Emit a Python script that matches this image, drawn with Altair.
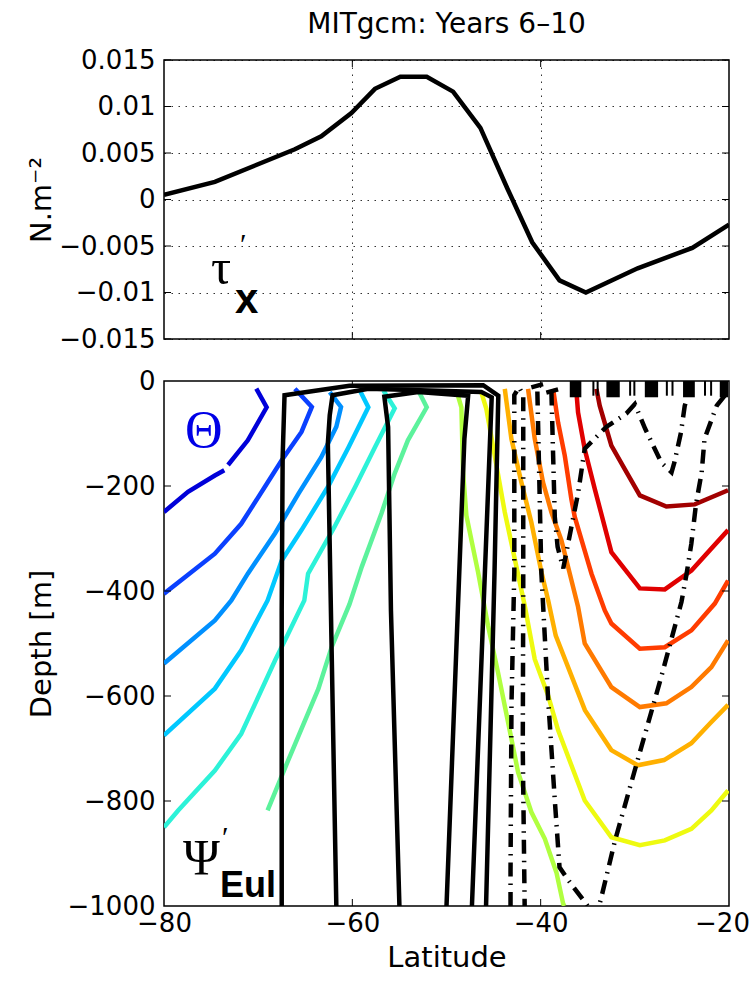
import altair as alt
import pandas as pd

SANS = "DejaVu Sans"
BOLD = "Liberation Sans"
SERIF = "Liberation Serif"

W = 565
H_TOP = 279
H_BOT = 525

# ---------------- data ----------------
# top panel: wind-stress anomaly
tau_lat = [-80.0, -74.6, -66.1, -63.3, -60.1, -57.6, -54.9, -52.1, -49.3, -46.4,
           -43.5, -40.9, -38.0, -35.2, -29.7, -23.9, -20.0]
tau_val = [0.0005, 0.0019, 0.0054, 0.0068, 0.0093, 0.0119, 0.0132, 0.0132, 0.0116, 0.0077,
           0.0011, -0.0046, -0.0087, -0.0100, -0.0074, -0.0052, -0.0027]

top_yticks = [-0.015, -0.01, -0.005, 0, 0.005, 0.01, 0.015]
lat_ticks = [-80, -60, -40, -20]
inner_lat_ticks = [-60, -40]
depth_ticks = [-1000, -800, -600, -400, -200, 0]

# bottom panel: potential temperature contours (lat, depth)
theta_1a = [(-80.0, -249.5), (-77.45, -211), (-74.6, -180), (-73.6, -170)]
theta_1b = [(-73.2, -160), (-71.1, -113), (-69.1, -50), (-70.2, -14.5)]
theta_2 = [(-66.1, -14.6), (-64.3, -49.5), (-65.4, -97), (-67.5, -151), (-69.3, -202),
           (-71.8, -272), (-74.6, -329), (-80.0, -405)]
theta_3 = [(-62.4, -21), (-61.2, -49.5), (-61.7, -87), (-63.3, -145), (-65.7, -214),
           (-68.2, -290), (-71.1, -367), (-72.85, -418), (-74.6, -456), (-80.0, -538)]
theta_4 = [(-59.2, -18), (-58.3, -50), (-60.4, -126), (-62.6, -202), (-65.4, -284),
           (-67.5, -342), (-69.0, -418), (-71.8, -513), (-74.6, -586), (-80.0, -675)]
theta_5 = [(-56.7, -18), (-55.5, -52), (-57.6, -126), (-59.7, -202), (-61.9, -278),
           (-64.7, -367), (-65.1, -418), (-66.8, -481), (-68.2, -532), (-71.8, -672),
           (-74.6, -742), (-78.5, -818), (-80.0, -850)]
theta_6 = [(-53.0, -18), (-52.1, -50), (-54.1, -113), (-55.5, -176), (-56.9, -252),
           (-59.0, -354), (-60.3, -425), (-62.2, -507), (-63.6, -586), (-66.8, -722),
           (-69.0, -818)]
theta_7 = [(-48.95, -18), (-48.42, -50), (-48.24, -174), (-47.89, -256), (-46.65, -364),
           (-45.59, -466), (-44.53, -555), (-43.46, -650), (-42.40, -745), (-40.99, -821),
           (-39.56, -872), (-38.33, -936), (-37.62, -995), (-37.5, -1000)]
theta_8 = [(-46.30, -21.5), (-45.77, -53), (-44.88, -142), (-43.81, -250), (-42.75, -339),
           (-41.69, -428), (-40.63, -530), (-39.21, -599), (-38.15, -665), (-35.32, -799),
           (-32.49, -869), (-29.47, -884), (-26.82, -875), (-23.99, -853), (-21.87, -818),
           (-20.1, -780)]
theta_9 = [(-43.81, -15), (-43.11, -110), (-42.05, -193), (-40.99, -269), (-39.92, -364),
           (-39.2, -418), (-38.4, -485), (-35.3, -627), (-32.5, -703), (-29.7, -732),
           (-26.9, -722), (-24.0, -690), (-22.0, -652), (-20.1, -617)]
theta_10 = [(-41.34, -15), (-40.63, -110), (-39.75, -193), (-38.86, -250), (-37.8, -303),
            (-36.03, -430), (-35.32, -500), (-32.49, -583), (-29.47, -621), (-26.65, -614),
            (-24.0, -583), (-21.87, -545), (-20.1, -494)]
theta_11 = [(-38.68, -15), (-38.15, -79), (-37.44, -142), (-36.74, -225), (-36.38, -259),
            (-34.6, -367), (-33.19, -437), (-32.49, -462), (-29.47, -510), (-26.82, -507),
            (-23.99, -475), (-21.51, -424), (-20.1, -380)]
theta_12 = [(-36.2, -21), (-36.03, -60), (-35.32, -130), (-34.25, -206), (-32.49, -326),
            (-29.47, -395), (-26.82, -397), (-23.99, -361), (-20.1, -284)]
theta_13 = [(-34.08, -15), (-33.73, -47), (-32.49, -123), (-31.07, -168), (-29.47, -218),
            (-26.65, -239), (-23.63, -235), (-20.1, -208)]

theta_names = ["t1a", "t1b", "t2", "t3", "t4", "t5", "t6", "t7", "t8", "t9", "t10",
               "t11", "t12", "t13"]
theta_lines = [theta_1a, theta_1b, theta_2, theta_3, theta_4, theta_5, theta_6, theta_7,
               theta_8, theta_9, theta_10, theta_11, theta_12, theta_13]
theta_colors = ["#0000D9", "#0000D9", "#0A40FF", "#0090FF", "#00C8FF", "#2CF2D8",
                "#5CF29C", "#B0FF40", "#EEFA10", "#FFB000", "#FF7A00", "#FF3C00",
                "#E00000", "#A20000"]

# streamfunction anomaly contours: positive (solid) and negative (dash-dot)
psi_pos_1 = [(-67.5, -1000), (-67.5, -437), (-67.4, -145), (-67.2, -27), (-60.3, -9),
             (-46.1, -8), (-44.5, -28), (-44.9, -364), (-45.8, -1000)]
psi_pos_2 = [(-61.7, -1000), (-62.6, -119), (-62.4, -65), (-62.1, -27), (-58.3, -15),
             (-46.3, -21), (-45.2, -31), (-47.3, -1000)]
psi_pos_3 = [(-55.0, -1000), (-55.9, -437), (-56.2, -88), (-56.6, -30), (-53.0, -21),
             (-47.7, -28), (-48.1, -110), (-50.0, -1000)]
psi_neg_1 = [(-43.2, -1000), (-43.2, -935), (-43.1, -617), (-42.8, -364), (-42.8, -27),
             (-42.3, -12), (-41.85, -27), (-41.85, -400), (-41.9, -700), (-41.7, -1000)]
psi_neg_2 = [(-40.35, -20), (-39.93, -364), (-39.2, -608), (-38.5, -798), (-38.0, -926),
             (-37.1, -950), (-35.0, -1000)]
psi_neg_3 = [(-38.86, -20), (-38.5, -259), (-38.2, -316), (-37.6, -357), (-36.74, -278),
             (-36.03, -214), (-35.32, -129), (-33.0, -87), (-30.9, -62), (-30.0, -44),
             (-28.9, -91), (-27.2, -155), (-26.1, -174), (-25.8, -155), (-25.1, -98),
             (-24.7, -47), (-24.4, -31)]
psi_neg_4 = [(-20.45, -28), (-21.3, -47), (-22.6, -110), (-22.9, -174), (-23.5, -234),
             (-24.0, -310), (-24.5, -367), (-25.05, -421), (-27.2, -564), (-29.7, -722),
             (-32.1, -875), (-33.55, -983), (-33.8, -1000)]
# short near-surface caps of the negative contours
psi_cap_1 = [(-40.99, -12), (-39.75, -6)]
psi_cap_2 = [(-39.4, -22), (-38.15, -16)]

pos_names = ["p1", "p2", "p3"]
pos_lines = [psi_pos_1, psi_pos_2, psi_pos_3]
neg_names = ["n1", "n2", "n3", "n4", "c1", "c2"]
neg_lines = [psi_neg_1, psi_neg_2, psi_neg_3, psi_neg_4, psi_cap_1, psi_cap_2]

# dense near-surface streamfunction contours (blocks and thin pairs)
surf_block_lat0 = [-36.91, -33.02, -28.94, -24.88, -20.98]
surf_block_lat1 = [-35.68, -31.60, -27.53, -23.63, -20.10]
surf_block_depth = [-31, -31, -31, -31, -31]
surf_thin_lat = [-34.4, -33.95, -30.5, -30.05, -26.6, -26.0, -22.55, -21.9]
surf_thin_depth = [-28, -28, -28, -28, -28, -28, -28, -28]


def rows(name, pts):
    return [{"cid": name, "i": k, "lat": p[0], "depth": p[1]} for k, p in enumerate(pts)]


theta_df = pd.DataFrame([r for n, pts in zip(theta_names, theta_lines) for r in rows(n, pts)])
pos_df = pd.DataFrame([r for n, pts in zip(pos_names, pos_lines) for r in rows(n, pts)])
neg_df = pd.DataFrame([r for n, pts in zip(neg_names, neg_lines) for r in rows(n, pts)])
block_df = pd.DataFrame({"lat": surf_block_lat0, "lat1": surf_block_lat1,
                         "depth": [0] * len(surf_block_lat0), "depth1": surf_block_depth})
thin_df = pd.DataFrame({"lat": surf_thin_lat, "depth": [0] * len(surf_thin_lat),
                        "depth1": surf_thin_depth})
tau_df = pd.DataFrame({"lat": tau_lat, "tau": tau_val})

# ---------------- encodings ----------------
lat_scale = alt.Scale(domain=[-80, -20], nice=False, zero=False)

x_top = alt.X("lat:Q", scale=lat_scale,
              axis=alt.Axis(values=inner_lat_ticks, labels=False, tickSize=0, domain=False,
                            title=None, grid=True, gridDash=[1.5, 5.5], gridColor="black",
                            gridOpacity=0.8, gridWidth=1))
y_top = alt.Y("tau:Q", scale=alt.Scale(domain=[-0.015, 0.015], nice=False, zero=False),
              axis=alt.Axis(values=top_yticks, format=".3~f", title="N.m\u207b\u00b2", tickSize=0,
                            labelPadding=9, labelFlush=False, domain=False, grid=True,
                            gridDash=[1.5, 5.5], gridColor="black", gridOpacity=0.8, gridWidth=1,
                            titleX=-108, titleY=H_TOP / 2))

x_bot = alt.X("lat:Q", scale=lat_scale,
              axis=alt.Axis(values=lat_ticks, format="d", title="Latitude", tickSize=0,
                            labelPadding=4, labelFlush=False, titlePadding=7, domain=False,
                            grid=False,
                            labelOffset={"condition": {"test": "datum.value == -20", "value": -7},
                                         "value": 0}))
y_bot = alt.Y("depth:Q", scale=alt.Scale(domain=[-1000, 0], nice=False, zero=False),
              axis=alt.Axis(values=depth_ticks, format="d", title="Depth [m]", tickSize=0,
                            labelPadding=9, labelFlush=False, domain=False, grid=False,
                            titleX=-108, titleY=H_BOT / 2))


def label(text, x, y, font, size, weight="normal", color="black"):
    return alt.Chart(pd.DataFrame({"t": [text]})).mark_text(
        text=text, font=font, fontSize=size, fontWeight=weight, color=color,
        align="left", baseline="alphabetic").encode(x=alt.value(x), y=alt.value(y))


TICK = 7

# ---------------- top panel ----------------
tau_line = alt.Chart(tau_df).mark_line(color="black", strokeWidth=4.5, clip=True).encode(
    x=x_top, y=y_top)
top_xt = pd.DataFrame({"lat": inner_lat_ticks})
top_yt = pd.DataFrame({"tau": top_yticks})
top_ticks = [
    alt.Chart(top_xt).mark_rule(color="black", strokeWidth=1).encode(
        x=x_top, y=alt.value(H_TOP), y2=alt.value(H_TOP - TICK)),
    alt.Chart(top_xt).mark_rule(color="black", strokeWidth=1).encode(
        x=x_top, y=alt.value(0), y2=alt.value(TICK)),
    alt.Chart(top_yt).mark_rule(color="black", strokeWidth=1).encode(
        y=y_top, x=alt.value(0), x2=alt.value(TICK)),
    alt.Chart(top_yt).mark_rule(color="black", strokeWidth=1).encode(
        y=y_top, x=alt.value(W - TICK), x2=alt.value(W)),
]
top_labels = [
    label("\u03c4", 47, 224, SERIF, 50),
    label("\u2032", 76, 194, SERIF, 30),
    label("x", 71, 253, BOLD, 42, weight="bold"),
]
top = alt.layer(tau_line, *top_ticks, *top_labels).properties(
    width=W, height=H_TOP,
    title=alt.TitleParams("MITgcm: Years 6\u201310", font=SANS, fontSize=28,
                          fontWeight="normal", color="black", offset=8))

# ---------------- bottom panel ----------------
theta_layer = alt.Chart(theta_df).mark_line(strokeWidth=4.5, clip=True, strokeCap="butt").encode(
    x=x_bot, y=y_bot,
    color=alt.Color("cid:N", scale=alt.Scale(domain=theta_names, range=theta_colors), legend=None),
    order=alt.Order("i:Q"))
pos_layer = alt.Chart(pos_df).mark_line(strokeWidth=4.5, color="black", clip=True).encode(
    x=x_bot, y=y_bot, detail="cid:N", order=alt.Order("i:Q"))
neg_layer = alt.Chart(neg_df).mark_line(strokeWidth=4.5, color="black", clip=True,
                                        strokeDash=[14, 7, 1.5, 7], strokeCap="butt").encode(
    x=x_bot, y=y_bot, detail="cid:N", order=alt.Order("i:Q"))
block_layer = alt.Chart(block_df).mark_rect(color="black", clip=True).encode(
    x=x_bot, x2="lat1:Q", y=y_bot, y2="depth1:Q")
thin_layer = alt.Chart(thin_df).mark_rule(color="black", strokeWidth=2, clip=True).encode(
    x=x_bot, y=y_bot, y2="depth1:Q")

bot_xt = pd.DataFrame({"lat": inner_lat_ticks})
bot_yt = pd.DataFrame({"depth": depth_ticks[1:-1]})
bot_ticks = [
    alt.Chart(bot_xt).mark_rule(color="black", strokeWidth=1).encode(
        x=x_bot, y=alt.value(H_BOT), y2=alt.value(H_BOT - TICK)),
    alt.Chart(bot_xt).mark_rule(color="black", strokeWidth=1).encode(
        x=x_bot, y=alt.value(0), y2=alt.value(TICK)),
    alt.Chart(bot_yt).mark_rule(color="black", strokeWidth=1).encode(
        y=y_bot, x=alt.value(0), x2=alt.value(TICK)),
    alt.Chart(bot_yt).mark_rule(color="black", strokeWidth=1).encode(
        y=y_bot, x=alt.value(W - TICK), x2=alt.value(W)),
]
bot_labels = [
    label("\u0398", 21, 66, SERIF, 52, color="#0000E6"),
    label("\u03a8", 19, 493, SERIF, 50),
    label("\u2032", 58, 466, SERIF, 30),
    label("Eul", 56, 516, BOLD, 36, weight="bold"),
]
bottom = alt.layer(theta_layer, block_layer, thin_layer, pos_layer, neg_layer,
                   *bot_ticks, *bot_labels).properties(width=W, height=H_BOT)

chart = alt.vconcat(top, bottom, spacing=42, bounds="flush").properties(
    padding={"left": 26, "top": 10, "right": 0, "bottom": 5},
    background="white",
).configure_view(stroke="black", strokeWidth=1.5).configure_axis(
    labelFont=SANS, labelFontSize=26, labelColor="black",
    titleFont=SANS, titleFontSize=29, titleColor="black", titleFontWeight="normal",
)

chart.save("out.html", embed_options={"renderer": "svg", "actions": False})
